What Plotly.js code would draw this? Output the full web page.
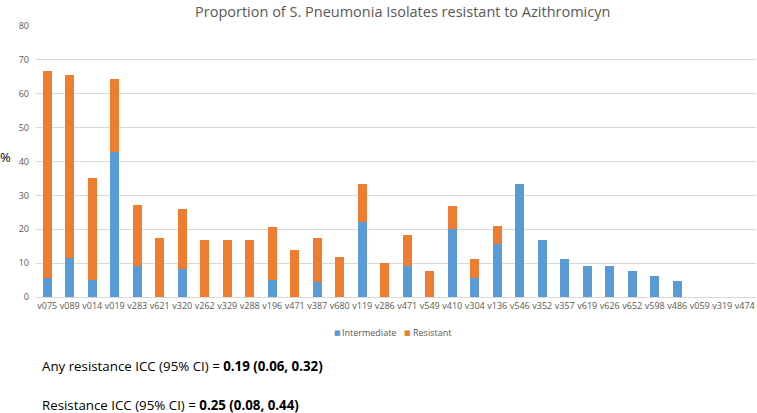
<!DOCTYPE html>
<html>
<head>
<meta charset="utf-8">
<script src="https://cdn.plot.ly/plotly-3.0.1.min.js"></script>
<style>html,body{margin:0;padding:0;background:#fff;}#chart{width:757px;height:413px;}</style>
</head>
<body>
<div id="chart"></div>
<script>
const serotypes = ["v075","v089","v014","v019","v283","v621","v320","v262","v329","v288","v196","v471","v387","v680","v119","v286","v471","v549","v410","v304","v136","v546","v352","v357","v619","v626","v652","v598","v486","v059","v319","v474"];
const intermediate = [5.6,11.5,5.0,42.9,9.1,0,8.3,0,0,0,5.0,0,4.3,0,22.2,0,9.1,0,20.0,5.6,15.6,33.3,16.7,11.1,9.1,9.1,7.7,6.1,4.6,0,0,0];
const resistant = [61.1,53.9,30.0,21.4,18.1,17.4,17.6,16.7,16.7,16.7,15.8,14.0,13.1,11.7,11.1,10.0,9.1,7.7,6.8,5.5,5.5,0,0,0,0,0,0,0,0,0,0,0];
const seriesNames = ["Intermediate","Resistant"];
const seriesColors = ["#5B9BD5","#ED7D31"];
const idx = serotypes.map((_, i) => i);

const traces = [
  {type:'bar', name:seriesNames[0], x: idx, y: intermediate, marker:{color:seriesColors[0]}},
  {type:'bar', name:seriesNames[1], x: idx, y: resistant, marker:{color:seriesColors[1]}}
];
const FF = 'Open Sans, sans-serif';
const tickFont = {family:FF, size:9, color:'#595959'};
const legY = -0.132;
const layout = {
  width:757, height:413,
  margin:{l:36, r:1, t:26, b:116},
  barmode:'stack', bargap:0.59,
  paper_bgcolor:'#fff', plot_bgcolor:'#fff',
  title:{text:'Proportion of S. Pneumonia Isolates resistant to Azithromicyn', x:0.532, xanchor:'center', y:0.972, yanchor:'middle', font:{family:FF, size:14.5, color:'#595959'}},
  xaxis:{type:'linear', range:[-0.5,31.5], tickvals: idx, ticktext: serotypes, showgrid:false, zeroline:false, showline:true, linecolor:'#D9D9D9', linewidth:1, ticks:'', tickfont:tickFont, tickangle:0, fixedrange:true},
  yaxis:{range:[0,80], dtick:10, showgrid:true, gridcolor:'#D9D9D9', gridwidth:1, zeroline:false, showline:false, ticks:'', tickfont:tickFont, ticklabelstandoff:6},
  showlegend:false,
  annotations:[
    {xref:'paper', yref:'paper', x:-0.043, y:0.517, xanchor:'center', yanchor:'middle', showarrow:false, text:'%', font:{family:FF, size:13, color:'#000'}},
    {xref:'paper', yref:'paper', x:0.4187, y:legY, xanchor:'center', yanchor:'middle', showarrow:false, text:'■', font:{family:'DejaVu Sans', size:7, color:seriesColors[0]}},
    {xref:'paper', yref:'paper', x:0.4236, y:legY, xanchor:'left', yanchor:'middle', showarrow:false, text:seriesNames[0], font:{family:FF, size:9, color:'#595959'}, borderpad:0},
    {xref:'paper', yref:'paper', x:0.516, y:legY, xanchor:'center', yanchor:'middle', showarrow:false, text:'■', font:{family:'DejaVu Sans', size:7, color:seriesColors[1]}},
    {xref:'paper', yref:'paper', x:0.5222, y:legY, xanchor:'left', yanchor:'middle', showarrow:false, text:seriesNames[1], font:{family:FF, size:9, color:'#595959'}, borderpad:0},
    {xref:'paper', yref:'paper', x:0.006, y:-0.255, xanchor:'left', yanchor:'middle', showarrow:false, text:'Any resistance ICC (95% CI) = <b>0.19 (0.06, 0.32)</b>', font:{family:FF, size:13.3, color:'#000'}},
    {xref:'paper', yref:'paper', x:0.006, y:-0.40, xanchor:'left', yanchor:'middle', showarrow:false, text:'Resistance ICC (95% CI) = <b>0.25 (0.08, 0.44)</b>', font:{family:FF, size:13.3, color:'#000'}}
  ]
};
Plotly.newPlot('chart', traces, layout, {displayModeBar:false, staticPlot:true});
</script>
</body>
</html>
